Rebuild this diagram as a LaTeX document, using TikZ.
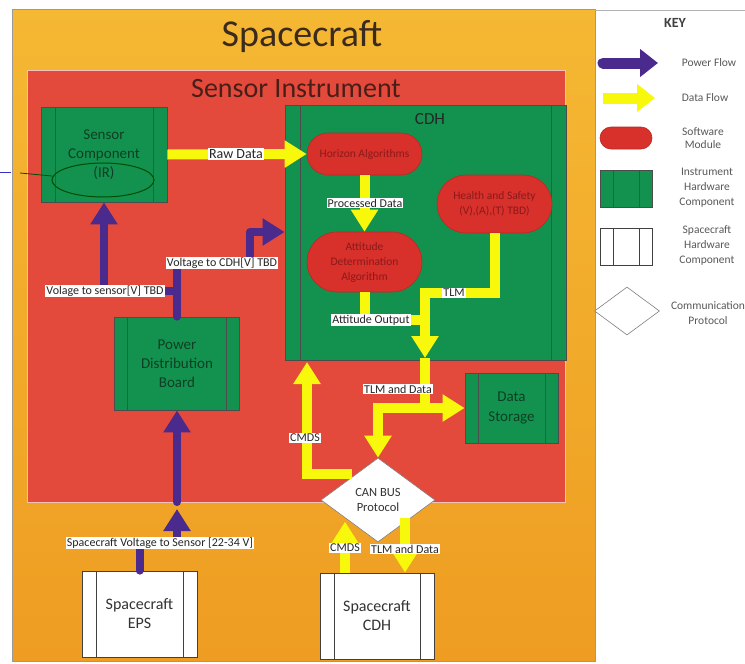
\documentclass[tikz,border=0pt]{standalone}
\usepackage{fontspec}
\setmainfont{Carlito}
\usetikzlibrary{arrows.meta,shapes.geometric,calc}
\definecolor{orangeA}{HTML}{F5B833}
\definecolor{orangeB}{HTML}{EE9D22}
\definecolor{redbox}{HTML}{E34A3B}
\definecolor{hwgreen}{HTML}{13924F}
\definecolor{hwtext}{HTML}{0D3F24}
\definecolor{swred}{HTML}{D8302B}
\definecolor{swtext}{HTML}{8A1A1A}
\definecolor{pwr}{HTML}{4A2A8C}
\definecolor{dat}{HTML}{F8F80C}
\definecolor{titlec}{HTML}{3B2B1F}
\definecolor{subtitlec}{HTML}{4A1E18}
\begin{document}
\begin{tikzpicture}[x=1pt,y=-1pt,
  hwbox/.style={rectangle, draw=black!70, line width=0.8pt, fill=hwgreen, text=hwtext, align=center, inner sep=0pt,
    path picture={\draw[black!70,line width=0.8pt] ([xshift=#1]path picture bounding box.north west) -- ([xshift=#1]path picture bounding box.south west);
      \draw[black!70,line width=0.8pt] ([xshift=-#1]path picture bounding box.north east) -- ([xshift=-#1]path picture bounding box.south east);}},
  hwbox/.default=14pt,
  scbox/.style={rectangle, draw=black!75, line width=0.8pt, fill=white, text=black!80, align=center, inner sep=0pt,
    path picture={\draw[black!75,line width=0.8pt] ([xshift=#1]path picture bounding box.north west) -- ([xshift=#1]path picture bounding box.south west);
      \draw[black!75,line width=0.8pt] ([xshift=-#1]path picture bounding box.north east) -- ([xshift=-#1]path picture bounding box.south east);}},
  scbox/.default=14pt,
  swmod/.style={rectangle, rounded corners=#1, fill=swred, draw=swred!85!black, line width=0.6pt, text=swtext, align=center, inner sep=0pt, font=\fontsize{11.5}{15}\selectfont},
  pwrline/.style={draw=pwr, line width=8pt, line cap=round, line join=round},
  pwrarrow/.style={pwrline, -{Triangle[width=26pt,length=22pt]}},
  datline/.style={draw=dat, line width=10pt, line join=miter},
  datarrow/.style={datline, -{Triangle[width=26pt,length=22pt]}},
  lbl/.style={fill=white, inner sep=1pt, text=black!85, font=\fontsize{12}{13}\selectfont},
  keytxt/.style={text=black!65, align=center, font=\fontsize{11.5}{15}\selectfont}
]
\useasboundingbox (0,0) rectangle (745,664);
\fill[white] (0,0) rectangle (745,664);
% containers
\draw[top color=orangeA, bottom color=orangeB, draw=gray!80, line width=1pt] (12,9) rectangle (595,661);
\draw[gray!60, line width=1pt] (595,10) -- (745,10);
\draw[fill=redbox, draw=redbox!35!white, line width=1pt] (27,70) rectangle (565,502);
\node[text=titlec, font=\fontsize{38}{40}\selectfont] (title) at (302,37) {Spacecraft};
\node[text=subtitlec, font=\fontsize{28}{30}\selectfont] (subtitle) at (296,89) {Sensor Instrument};
% blocks
\node[hwbox, minimum width=126pt, minimum height=95pt, font=\fontsize{15}{19}\selectfont] (sensor) at (104,154.5) {Sensor\\Component\\(IR)};
\node[hwbox=15pt, minimum width=281pt, minimum height=255pt] (cdh) at (425.5,232.5) {};
\node[text=black!85, font=\fontsize{17}{19}\selectfont] (cdhtitle) at (430,119) {CDH};
\node[swmod=21pt, minimum width=115pt, minimum height=42pt] (hor) at (364.5,154) {Horizon Algorithms};
\node[swmod=30pt, minimum width=115pt, minimum height=60pt] (att) at (364.5,262) {Attitude\\Determination\\Algorithm};
\node[swmod=29pt, minimum width=115pt, minimum height=58pt] (hs) at (494.5,204) {Health and Safety\\(V),(A),(T) TBD)};
\node[hwbox=13pt, minimum width=125pt, minimum height=93pt, font=\fontsize{15}{19}\selectfont] (pdb) at (177,363.5) {Power\\Distribution\\Board};
\node[hwbox=13pt, minimum width=93pt, minimum height=70pt, font=\fontsize{15}{20}\selectfont] (ds) at (511.5,408) {Data\\Storage};
\node[diamond, aspect=1.357, fill=white, draw=black!50, line width=0.6pt, minimum width=114pt, minimum height=84pt, inner sep=0pt, align=center, text=black!80, font=\fontsize{12.5}{15}\selectfont] (can) at (378,500) {CAN BUS\\Protocol};
\node[scbox, minimum width=115pt, minimum height=86pt, font=\fontsize{16}{19}\selectfont] (eps) at (139.5,614) {Spacecraft\\EPS};
\node[scbox, minimum width=114pt, minimum height=86pt, font=\fontsize{16}{19}\selectfont] (scc) at (377,616) {Spacecraft\\CDH};
% hand-drawn mark
\draw[black!70!green, line width=1pt] (103,180) ellipse [x radius=51pt, y radius=17pt];
\draw[black!70!green, line width=0.8pt] (20,173) -- (52,176);
\draw[blue!60!gray, line width=0.8pt] (0,172) -- (11,172);
% coordinates
\coordinate (m1) at (425,358);
\coordinate (cm) at (352,474);
\coordinate (cmt) at (307,362);
\coordinate (pj) at (177,291);
\coordinate (tds) at (405,518);
% data flows
\draw[datarrow] (sensor.east) -- (hor.west);
\draw[datarrow] (hor.south) -- (att.north);
\draw[datline] (hs.south) |- (425,293) -- (425,325);
\draw[datarrow] (att.south) |- (425,320) -- (m1);
\draw[datarrow] (m1) -- (425,408) -| (can.north);
\draw[datarrow] (373,408) -- (ds.west);
\draw[datarrow] (cm) -| (cmt);
\draw[datarrow] ([xshift=-32pt]scc.north) -- ++(0,-51);
\draw[datarrow] (tds) -- ([xshift=28pt]scc.north);
% power flows
\draw[pwrarrow] (pdb.north) -- (pj) -| (sensor.south);
\draw[pwrarrow] (pj) -- (177,263) -- (250,263) -- (250,232) -- (cdh.west |- 0,232);
\draw[pwrarrow] (eps.north) |- (177,543) -- (177,509);
\draw[pwrarrow] (177,502) -- (pdb.south);
% labels
\node[lbl, font=\fontsize{14}{15}\selectfont] (lraw) at (236,154) {Raw Data};
\node[lbl] (lpd) at (365,203) {Processed Data};
\node[lbl] (lao) at (371,320) {Attitude Output};
\node[lbl] (ltlm) at (454,293) {TLM};
\node[lbl] (ltd) at (398,389) {TLM and Data};
\node[lbl] (lcm) at (305,438) {CMDS};
\node[lbl] (lvs) at (105,291) {Volage to sensor[V] TBD};
\node[lbl] (lvc) at (222,263) {Voltage to CDH[V] TBD};
\node[lbl] (lsv) at (160,543) {Spacecraft Voltage to Sensor [22-34 V]};
\node[lbl] (lcm2) at (345,548) {CMDS};
\node[lbl] (ltd2) at (405,549) {TLM and Data};
% key
\node[text=black!75, font=\bfseries\fontsize{14}{16}\selectfont] (keyt) at (675,23) {KEY};
\coordinate (kp1) at (603,63);
\coordinate (kp2) at (658,63);
\coordinate (kd1) at (603,98);
\coordinate (kd2) at (655,98);
\draw[pwrarrow, line width=11pt, -{Triangle[width=27pt,length=18pt]}] (kp1) -- (kp2);
\node[keytxt] (kpt) at (709,63) {Power Flow};
\draw[datarrow, line width=11pt, -{Triangle[width=27pt,length=18pt]}] (kd1) -- (kd2);
\node[keytxt] (kdt) at (705,98) {Data Flow};
\node[swmod=11pt, minimum width=52pt, minimum height=22pt] (ksw) at (626,138) {};
\node[keytxt, font=\fontsize{11.5}{13.5}\selectfont] (kswt) at (703,138) {Software\\Module};
\node[hwbox=13pt, minimum width=52pt, minimum height=37pt] (khw) at (626,188.5) {};
\node[keytxt] (khwt) at (707,188) {Instrument\\Hardware\\Component};
\node[scbox=13pt, minimum width=52pt, minimum height=37pt] (ksc) at (626,246.5) {};
\node[keytxt] (ksct) at (707,245) {Spacecraft\\Hardware\\Component};
\node[diamond, aspect=1.354, fill=white, draw=black!50, line width=0.6pt, minimum width=65pt, minimum height=48pt, inner sep=0pt] (kdia) at (627,311) {};
\node[keytxt] (kdiat) at (708,313) {Communication\\Protocol};
\end{tikzpicture}
\end{document}
